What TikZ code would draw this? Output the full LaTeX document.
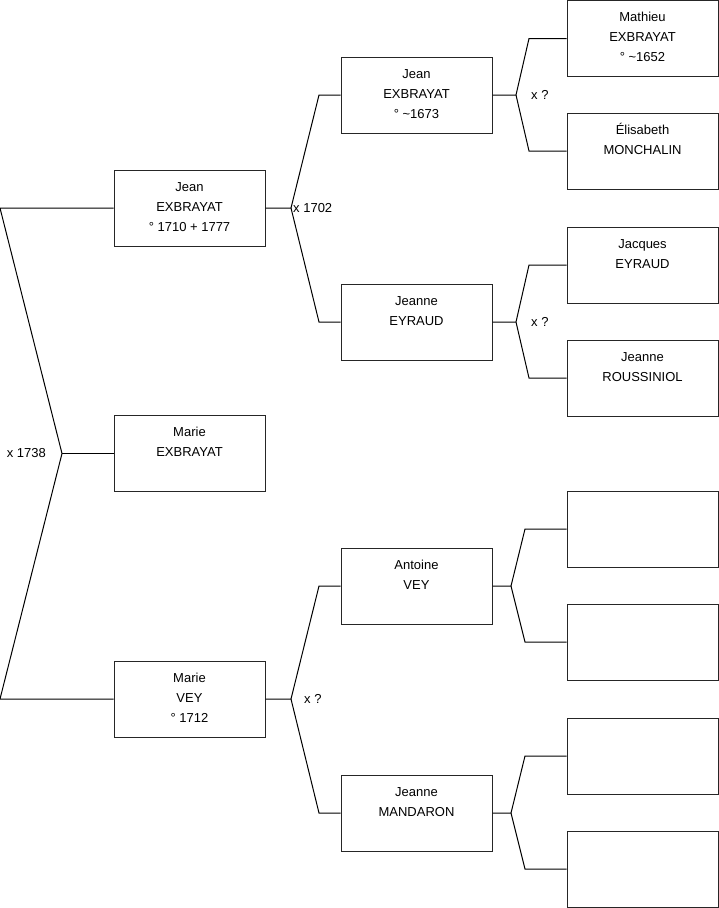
\documentclass[tikz,border=0pt]{standalone}
\usepackage{fontspec}
\setmainfont{Liberation Sans}
\usetikzlibrary{positioning}
\newcommand{\ptext}[1]{\parbox[c][76pt][t]{151pt}{\centering\rule{0pt}{21pt}#1}}

\begin{document}
\begin{tikzpicture}[
    x=1pt, y=-1pt,
    person/.style={rectangle, draw=black!85, line width=1pt, inner sep=0pt, font=\fontsize{13}{20}\selectfont},
    link/.style={line width=1pt},
    union/.style={inner sep=0pt, font=\fontsize{13}{15}\selectfont}
]
    \useasboundingbox (0,0) rectangle (719,908);

    % generation 1
    \node[person] (jean) at (189.5,208) {\ptext{Jean\\EXBRAYAT\\° 1710 + 1777}};
    \node[person] (marie) at (189.5,453.5) {\ptext{Marie\\EXBRAYAT}};
    \node[person] (mvey) at (189.5,699) {\ptext{Marie\\VEY\\° 1712}};

    % generation 2
    \node[person] (jean2) at (416.5,95) {\ptext{Jean\\EXBRAYAT\\° \textasciitilde1673}};
    \node[person] (eyraud) at (416.5,322) {\ptext{Jeanne\\EYRAUD}};
    \node[person] (antoine) at (416.5,586) {\ptext{Antoine\\VEY}};
    \node[person] (mandaron) at (416.5,813) {\ptext{Jeanne\\MANDARON}};

    % generation 3
    \node[person] (mathieu) at (642.5,38.5) {\ptext{Mathieu\\EXBRAYAT\\° \textasciitilde1652}};
    \node[person] (elisabeth) at (642.5,151) {\ptext{Élisabeth\\MONCHALIN}};
    \node[person] (jacques) at (642.5,265) {\ptext{Jacques\\EYRAUD}};
    \node[person] (roussiniol) at (642.5,378) {\ptext{Jeanne\\ROUSSINIOL}};
    \node[person] (empty1) at (642.5,529) {\ptext{}};
    \node[person] (empty2) at (642.5,642) {\ptext{}};
    \node[person] (empty3) at (642.5,756) {\ptext{}};
    \node[person] (empty4) at (642.5,869) {\ptext{}};

    % bracket vertices
    \coordinate (c0a) at (0,208);
    \coordinate (c0) at (62,453.5);
    \coordinate (c0b) at (0,699);
    \coordinate (c1) at (291,208);
    \coordinate (c1a) at (319,95);
    \coordinate (c1b) at (319,322);
    \coordinate (c2) at (291,699);
    \coordinate (c2a) at (319,586);
    \coordinate (c2b) at (319,813);
    \coordinate (c3) at (516,95);
    \coordinate (c3a) at (529,38.5);
    \coordinate (c3b) at (529,151);
    \coordinate (c4) at (516,322);
    \coordinate (c4a) at (529,265);
    \coordinate (c4b) at (529,378);
    \coordinate (c5) at (511,586);
    \coordinate (c5a) at (525,529);
    \coordinate (c5b) at (525,642);
    \coordinate (c6) at (511,813);
    \coordinate (c6a) at (525,756);
    \coordinate (c6b) at (525,869);

    \draw[link] (jean.west) -- (c0a) -- (c0) -- (c0b) -- (mvey.west);
    \draw[link] (c0) -- (marie.west);

    \draw[link] (jean.east) -- (c1) -- (c1a) -- (jean2.west);
    \draw[link] (c1) -- (c1b) -- (eyraud.west);
    \draw[link] (mvey.east) -- (c2) -- (c2a) -- (antoine.west);
    \draw[link] (c2) -- (c2b) -- (mandaron.west);

    \draw[link] (jean2.east) -- (c3) -- (c3a) -- (mathieu.west);
    \draw[link] (c3) -- (c3b) -- (elisabeth.west);
    \draw[link] (eyraud.east) -- (c4) -- (c4a) -- (jacques.west);
    \draw[link] (c4) -- (c4b) -- (roussiniol.west);
    \draw[link] (antoine.east) -- (c5) -- (c5a) -- (empty1.west);
    \draw[link] (c5) -- (c5b) -- (empty2.west);
    \draw[link] (mandaron.east) -- (c6) -- (c6a) -- (empty3.west);
    \draw[link] (c6) -- (c6b) -- (empty4.west);

    % marriages
    \node[union, left=16pt of c0] (u0) {x 1738};
    \node[union, right=2pt of c1] (u1) {x 1702};
    \node[union, right=13pt of c2] (u2) {x ?};
    \node[union, right=15pt of c3] (u3) {x ?};
    \node[union, right=15pt of c4] (u4) {x ?};

\end{tikzpicture}
\end{document}
